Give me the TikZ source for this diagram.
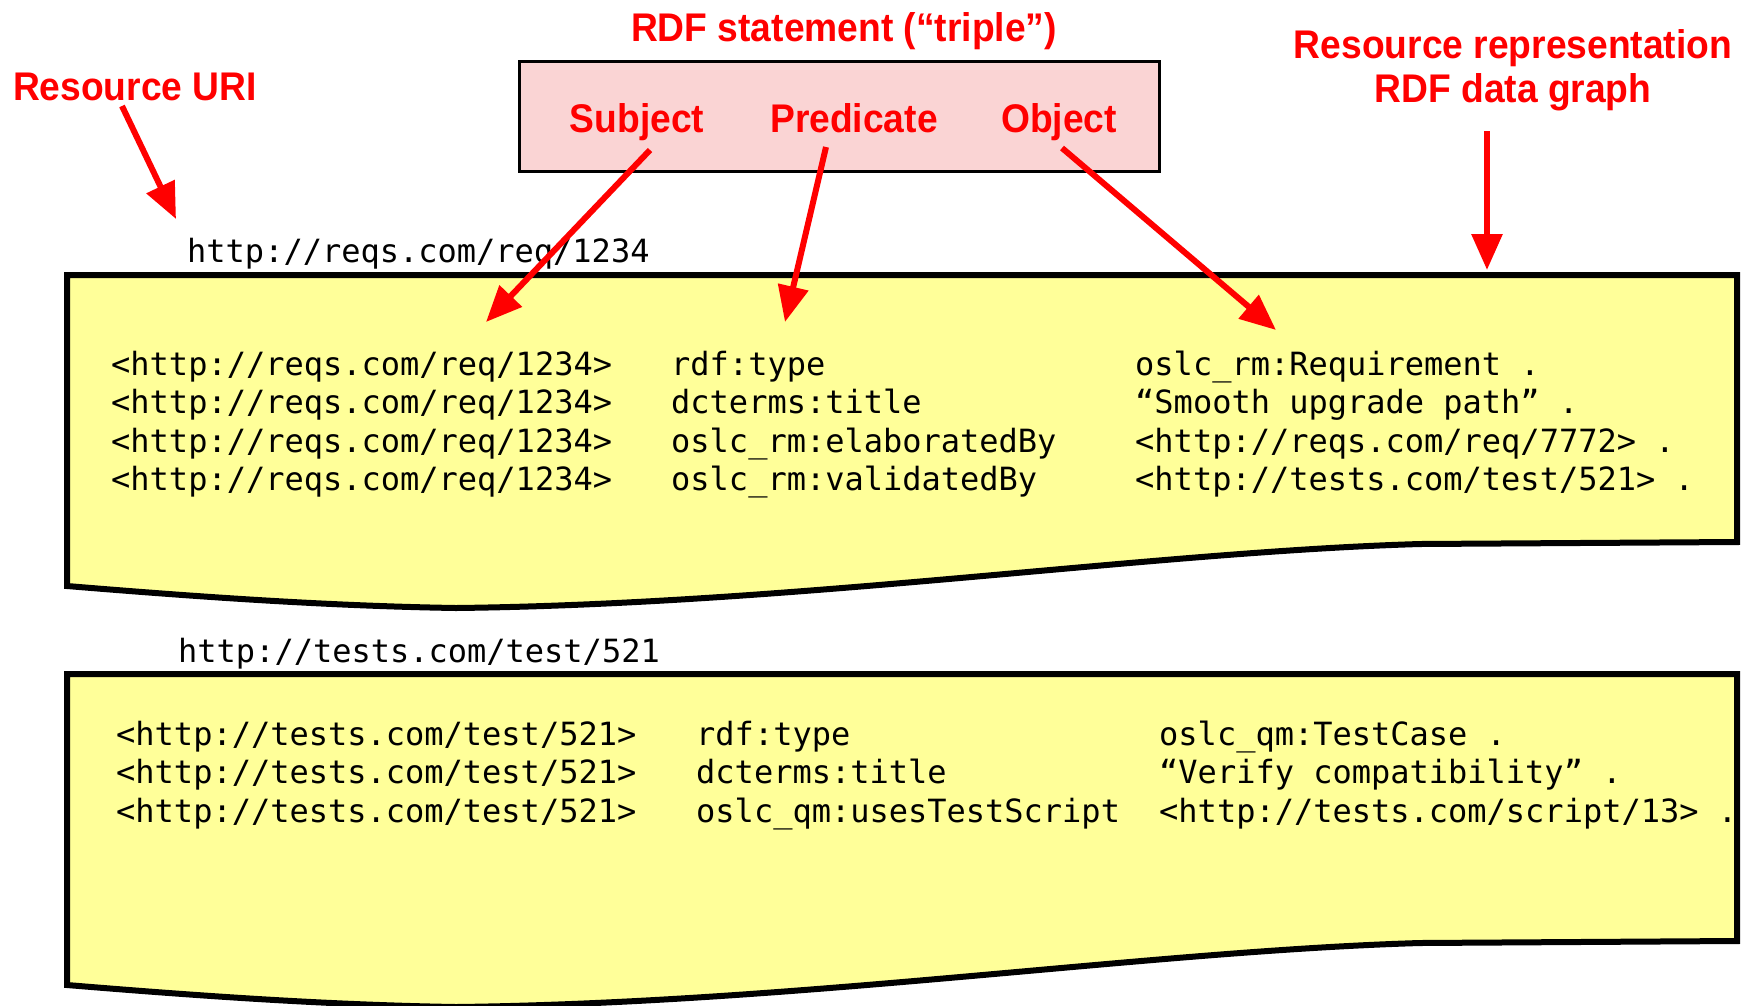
\documentclass[tikz,border=0pt]{standalone}
\usepackage{fontspec}
\usetikzlibrary{arrows.meta}
\newfontfamily\lblfont[FakeStretch=0.93]{Liberation Sans}
\newfontfamily\codefont{DejaVu Sans Mono}
\definecolor{sheetyellow}{RGB}{255,255,153}
\definecolor{stmtpink}{RGB}{250,212,212}
\definecolor{rdfred}{RGB}{255,0,0}
\tikzset{
  lbl/.style={font=\lblfont\bfseries\fontsize{40}{44}\selectfont, text=rdfred, inner sep=0pt, anchor=base},
  code/.style={font=\codefont\fontsize{32}{38}\selectfont, inner sep=0pt, anchor=base west},
  pointer/.style={draw=rdfred, line width=6pt, -{Triangle[length=36pt,width=30pt]}},
  sheet/.style={draw=black, line width=6pt, fill=sheetyellow, line join=miter},
  stmtbox/.style={draw=black, line width=3pt, fill=stmtpink, minimum width=640pt, minimum height=110pt, inner sep=0pt}
}
\begin{document}
\begin{tikzpicture}[x=1pt,y=-1pt]
  \useasboundingbox (0,0) rectangle (1743,1005);
  \clip (0,0) rectangle (1743,1005);

  % the triple box with its three parts
  \node[stmtbox] (stmt) at (839,116) {};
  \node[lbl] (title) at (844,41) {RDF statement (“triple”)};
  \node[lbl] (subj) at (637,132) {Subject};
  \node[lbl] (pred) at (854,132) {Predicate};
  \node[lbl] (obj)  at (1059,132) {Object};

  % side captions
  \node[lbl] (resuri) at (135,100) {Resource URI};
  \node[lbl] (resrep) at (1513,58) {Resource representation};
  \node[lbl] (resgraph) at (1513,102) {RDF data graph};

  % first resource sheet
  \path[sheet] (67,275) -- (1737,275) -- (1737,542) -- (1420,544)
    .. controls (1150,552) and (800,604) .. (456,608)
    .. controls (330,606) and (200,597) .. (67,586) -- cycle;
  \node[code] (uri1) at (187,262) {http://reqs.com/req/1234};

  \node[code] (a1) at (111,375)   {<http://reqs.com/req/1234>};
  \node[code] (a2) at (111,413.5) {<http://reqs.com/req/1234>};
  \node[code] (a3) at (111,452)   {<http://reqs.com/req/1234>};
  \node[code] (a4) at (111,490.5) {<http://reqs.com/req/1234>};
  \node[code] (b1) at (671,375)   {rdf:type};
  \node[code] (b2) at (671,413.5) {dcterms:title};
  \node[code] (b3) at (671,452)   {oslc\_rm:elaboratedBy};
  \node[code] (b4) at (671,490.5) {oslc\_rm:validatedBy};
  \node[code] (c1) at (1135,375)   {oslc\_rm:Requirement .};
  \node[code] (c2) at (1135,413.5) {“Smooth upgrade path” .};
  \node[code] (c3) at (1135,452)   {<http://reqs.com/req/7772> .};
  \node[code] (c4) at (1135,490.5) {<http://tests.com/test/521> .};

  % second resource sheet
  \path[sheet] (67,674) -- (1737,674) -- (1737,941) -- (1420,943)
    .. controls (1150,951) and (800,1003) .. (456,1007)
    .. controls (330,1005) and (200,996) .. (67,985) -- cycle;
  \node[code] (uri2) at (178,662) {http://tests.com/test/521};

  \node[code] (d1) at (116,745)   {<http://tests.com/test/521>};
  \node[code] (d2) at (116,783.5) {<http://tests.com/test/521>};
  \node[code] (d3) at (116,822)   {<http://tests.com/test/521>};
  \node[code] (e1) at (696,745)   {rdf:type};
  \node[code] (e2) at (696,783.5) {dcterms:title};
  \node[code] (e3) at (696,822)   {oslc\_qm:usesTestScript};
  \node[code] (f1) at (1159,745)   {oslc\_qm:TestCase .};
  \node[code] (f2) at (1159,783.5) {“Verify compatibility” .};
  \node[code] (f3) at (1159,822)   {<http://tests.com/script/13> .};

  % arrow ends
  \coordinate (uriFoot) at (122,106);
  \coordinate (uriTip) at (176,219);
  \coordinate (subjFoot) at (650,150);
  \coordinate (subjTip) at (486,322);
  \coordinate (predFoot) at (826,147);
  \coordinate (predTip) at (785,322);
  \coordinate (objFoot) at (1062,148);
  \coordinate (objTip) at (1276,330);
  \coordinate (repFoot) at (1487,131);
  \coordinate (repTip) at (1487,270);

  \draw[pointer] (uriFoot) -- (uriTip);
  \draw[pointer] (subjFoot) -- (subjTip);
  \draw[pointer] (predFoot) -- (predTip);
  \draw[pointer] (objFoot) -- (objTip);
  \draw[pointer] (repFoot) -- (repTip);
\end{tikzpicture}
\end{document}
